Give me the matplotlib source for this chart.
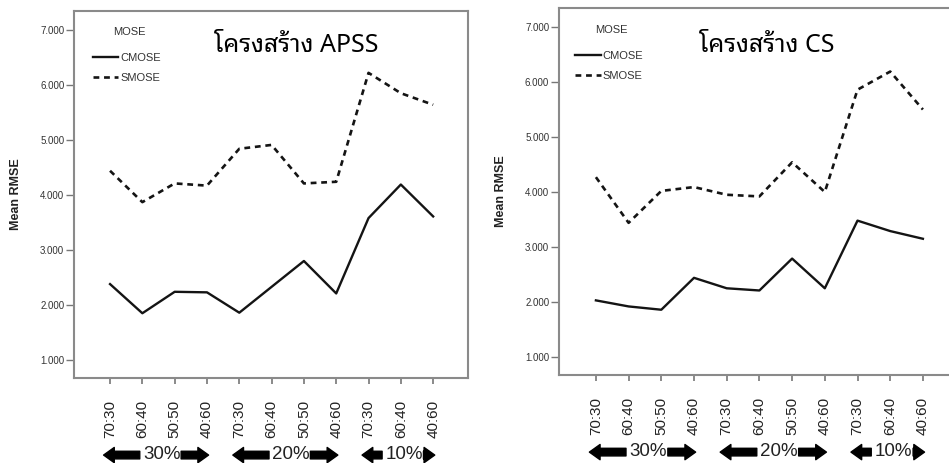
import matplotlib
matplotlib.use("Agg")
import matplotlib.pyplot as plt
from matplotlib.ticker import FuncFormatter

plt.rcParams['font.family'] = ['Liberation Sans', 'DejaVu Sans']

ratios = ['70:30', '60:40', '50:50', '40:60',
          '70:30', '60:40', '50:50', '40:60',
          '70:30', '60:40', '40:60']
groups = ['30%', '20%', '10%']
group_sizes = [4, 4, 3]

apss_cmose = [2.38, 1.85, 2.24, 2.23, 1.86, 2.33, 2.80, 2.21, 3.58, 4.19, 3.61]
apss_smose = [4.44, 3.87, 4.21, 4.17, 4.84, 4.91, 4.21, 4.24, 6.22, 5.85, 5.64]
cs_cmose = [2.03, 1.92, 1.86, 2.44, 2.25, 2.21, 2.79, 2.25, 3.48, 3.29, 3.15]
cs_smose = [4.27, 3.44, 4.02, 4.09, 3.95, 3.92, 4.54, 4.00, 5.86, 6.19, 5.50]

THAI = ['Noto Sans Thai Looped', 'Noto Sans']


def draw_panel(ax, cmose, smose, title, xlim, title_xy, legend_xy, mose_xy):
    x = list(range(len(ratios)))
    ax.plot(x, cmose, color='#141414', lw=1.7, label='CMOSE')
    ax.plot(x, smose, color='#141414', lw=1.9, linestyle=(0, (2.2, 1.8)), label='SMOSE')

    ax.set_xlim(*xlim)
    ax.set_ylim(0.673, 7.345)
    ax.set_yticks([1, 2, 3, 4, 5, 6, 7])
    ax.yaxis.set_major_formatter(FuncFormatter(lambda v, p: f'{v:.3f}'))
    ax.set_xticks(x)
    ax.set_xticklabels(ratios, rotation=90, fontsize=11, color='#222222')
    ax.tick_params(axis='y', labelsize=7, labelcolor='#333333', color='#777777',
                   length=6, width=1, pad=1)
    ax.tick_params(axis='x', color='#777777', length=4, width=1.2, pad=12)
    for s in ax.spines.values():
        s.set_color('#8a8a8a')
        s.set_linewidth(1.5)

    ax.set_ylabel('Mean RMSE', fontsize=9, fontweight='bold', color='#222222')
    ax.yaxis.set_label_coords(-0.132, 0.5)

    ax.text(title_xy[0], title_xy[1], title, transform=ax.transAxes, ha='center',
            va='center', fontsize=18, fontweight='bold', family=THAI)
    ax.text(mose_xy[0], mose_xy[1], 'MOSE', transform=ax.transAxes, ha='center',
            va='center', fontsize=8, color='#333333')
    ax.legend(loc='upper left', bbox_to_anchor=legend_xy, frameon=False, fontsize=8,
              handlelength=2.3, handletextpad=0.15, labelspacing=0.9,
              borderaxespad=0, borderpad=0, labelcolor='#333333')

    # group labels with arrows under the ratio labels
    start = 0
    y = -0.21
    for g, n in zip(groups, group_sizes):
        end = start + n - 1
        mid = (start + end) / 2 + 0.1
        ax.text(mid, y + 0.002, g, transform=ax.get_xaxis_transform(), ha='center',
                va='center', fontsize=13.5, color='#222222')
        style = 'simple,head_length=0.7,head_width=1.0,tail_width=0.5'
        for a, b in [(mid - 0.68, start - 0.2), (mid + 0.6, end + 0.05)]:
            ax.annotate('', xy=(b, y), xytext=(a, y),
                        xycoords=('data', 'axes fraction'),
                        textcoords=('data', 'axes fraction'),
                        arrowprops=dict(arrowstyle=style, fc='black', ec='black',
                                        shrinkA=0, shrinkB=0, mutation_scale=11),
                        annotation_clip=False)
        start += n


fig = plt.figure(figsize=(9.49, 4.63), dpi=100)
ax1 = fig.add_axes([0.078, 0.1836, 0.4152, 0.7927])
ax2 = fig.add_axes([0.589, 0.190, 0.4152, 0.7927])

draw_panel(ax1, apss_cmose, apss_smose, 'โครงสร้าง APSS', (-1.115, 11.08),
           (0.563, 0.905), (0.048, 0.886), (0.14, 0.943))
draw_panel(ax2, cs_cmose, cs_smose, 'โครงสร้าง CS', (-1.13, 10.92),
           (0.528, 0.897), (0.041, 0.883), (0.133, 0.94))

fig.savefig('out.png', dpi=100)
